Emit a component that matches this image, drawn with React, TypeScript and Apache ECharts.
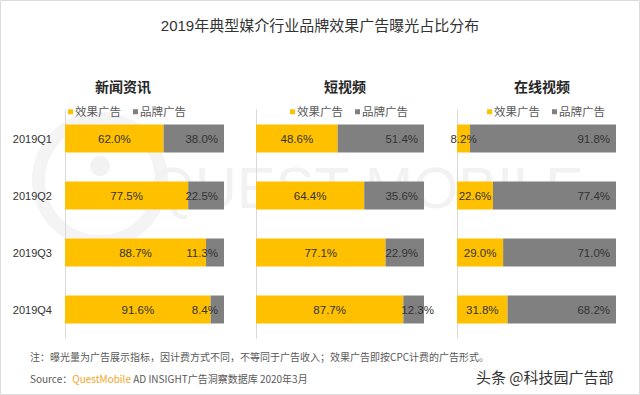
import React, { useEffect, useRef } from "react";
import * as echarts from "echarts";

const quarters = ["2019Q1", "2019Q2", "2019Q3", "2019Q4"];
const panelTitles = ["新闻资讯", "短视频", "在线视频"];
const seriesNames = ["效果广告", "品牌广告"];
const newsEffect = [62.0, 77.5, 88.7, 91.6];
const newsBrand = [38.0, 22.5, 11.3, 8.4];
const shortEffect = [48.6, 64.4, 77.1, 87.7];
const shortBrand = [51.4, 35.6, 22.9, 12.3];
const onlineEffect = [8.2, 22.6, 29.0, 31.8];
const onlineBrand = [91.8, 77.4, 71.0, 68.2];

const FONT = "'Liberation Sans', 'Noto Sans CJK SC', sans-serif";

export default function App() {
  const ref = useRef<HTMLDivElement>(null);
  useEffect(() => {
    if (!ref.current) return;
    const chart = echarts.init(ref.current, null, { renderer: "svg" });
    const panels = [
      { effect: newsEffect, brand: newsBrand, left: 65, width: 159, center: 118 },
      { effect: shortEffect, brand: shortBrand, left: 256, width: 168, center: 340 },
      { effect: onlineEffect, brand: onlineBrand, left: 457, width: 159, center: 537 },
    ];
    const labelFmt = (p: any) => Number(p.value).toFixed(1) + "%";
    const grids = panels.map((p) => ({ left: p.left, width: p.width, top: 110, height: 228 }));
    const xAxes = panels.map((_, i) => ({ gridIndex: i, type: "value", min: 0, max: 100, show: false }));
    const yAxes = panels.map((_, i) => ({
      gridIndex: i,
      type: "category",
      inverse: true,
      data: quarters,
      axisLine: { show: true, lineStyle: { color: "#d9d9d9" } },
      axisTick: { show: false },
      axisLabel: { show: i === 0, color: "#333", fontSize: 11, fontFamily: FONT, margin: 13 },
    }));
    const series: any[] = [];
    panels.forEach((p, i) => {
      series.push({
        name: seriesNames[0],
        type: "bar",
        xAxisIndex: i,
        yAxisIndex: i,
        stack: "s" + i,
        barWidth: 28,
        data: p.effect,
        itemStyle: { color: "#FFC000" },
        label: { show: true, position: "inside", color: "#333", fontSize: 11.5, fontFamily: FONT, formatter: labelFmt },
      });
      series.push({
        name: seriesNames[1],
        type: "bar",
        xAxisIndex: i,
        yAxisIndex: i,
        stack: "s" + i,
        barWidth: 28,
        data: p.brand.map((v, j) =>
          i === 1 && j === 3 ? { value: v, label: { position: "inside", offset: [4, 0] } } : v
        ),
        itemStyle: { color: "#808080" },
        label: { show: true, position: "insideRight", distance: 6, color: "#333", fontSize: 11.5, fontFamily: FONT, formatter: labelFmt },
      });
    });
    const legends = panels.map((p) => ({
      data: seriesNames,
      left: p.center - 55,
      top: 101,
      itemWidth: 5,
      itemHeight: 5,
      itemGap: 12,
      icon: "rect",
      textStyle: { color: "#595959", fontSize: 11.5, fontFamily: FONT, padding: [0, 0, 0, -3] },
      selectedMode: false,
    }));
    const titles: any[] = [
      {
        text: "2019年典型媒介行业品牌效果广告曝光占比分布",
        left: "center",
        top: 13,
        textStyle: { color: "#333", fontSize: 15, fontWeight: "normal", fontFamily: FONT },
      },
      ...panels.map((p, i) => ({
        text: panelTitles[i],
        left: p.center,
        top: 75,
        textAlign: "center",
        textStyle: { color: "#262626", fontSize: 14, fontWeight: "bold", fontFamily: FONT },
      })),
    ];
    chart.setOption({
      animation: false,
      backgroundColor: "#fff",
      title: titles,
      legend: legends,
      grid: grids,
      xAxis: xAxes,
      yAxis: yAxes,
      series,
      graphic: [
        { type: "rect", z: -10, shape: { x: 0.5, y: 0.5, width: 639, height: 394 }, style: { fill: "none", stroke: "#dcdcdc", lineWidth: 1 } },
        { type: "ring", z: -10, silent: true, shape: { cx: 100, cy: 180, r: 68, r0: 55 }, style: { fill: "#f4f4f4" } },
        { type: "circle", z: -10, silent: true, shape: { cx: 100, cy: 166, r: 10 }, style: { fill: "#f2f2f2" } },
        {
          type: "text",
          z: -10,
          silent: true,
          left: 150,
          top: 158,
          style: { text: "QUEST MOBILE", fill: "#f2f2f2", font: "58px 'Liberation Sans', sans-serif" },
        },
        {
          type: "text",
          left: 30,
          top: 351,
          style: {
            text: "注：曝光量为广告展示指标，因计费方式不同，不等同于广告收入；效果广告即按CPC计费的广告形式。",
            fill: "#595959",
            font: "10px 'Noto Sans CJK SC', sans-serif",
          },
        },
        {
          type: "text",
          left: 30,
          top: 373,
          style: {
            text: "{g|Source：}{o|QuestMobile}{g| AD INSIGHT广告洞察数据库 2020年3月}",
            rich: {
              g: { fill: "#595959", font: "10px 'Noto Sans CJK SC', sans-serif" },
              o: { fill: "#F5A623", font: "10px 'Noto Sans CJK SC', sans-serif" },
            },
          },
        },
        {
          type: "text",
          left: 476,
          top: 369,
          style: { text: "头条 @科技园广告部", fill: "#333", font: "15px 'Noto Sans CJK SC', sans-serif" },
        },
      ],
    });
    return () => chart.dispose();
  }, []);
  return <div ref={ref} style={{ position: "absolute", left: 0, top: 0, width: 640, height: 395 }} />;
}
